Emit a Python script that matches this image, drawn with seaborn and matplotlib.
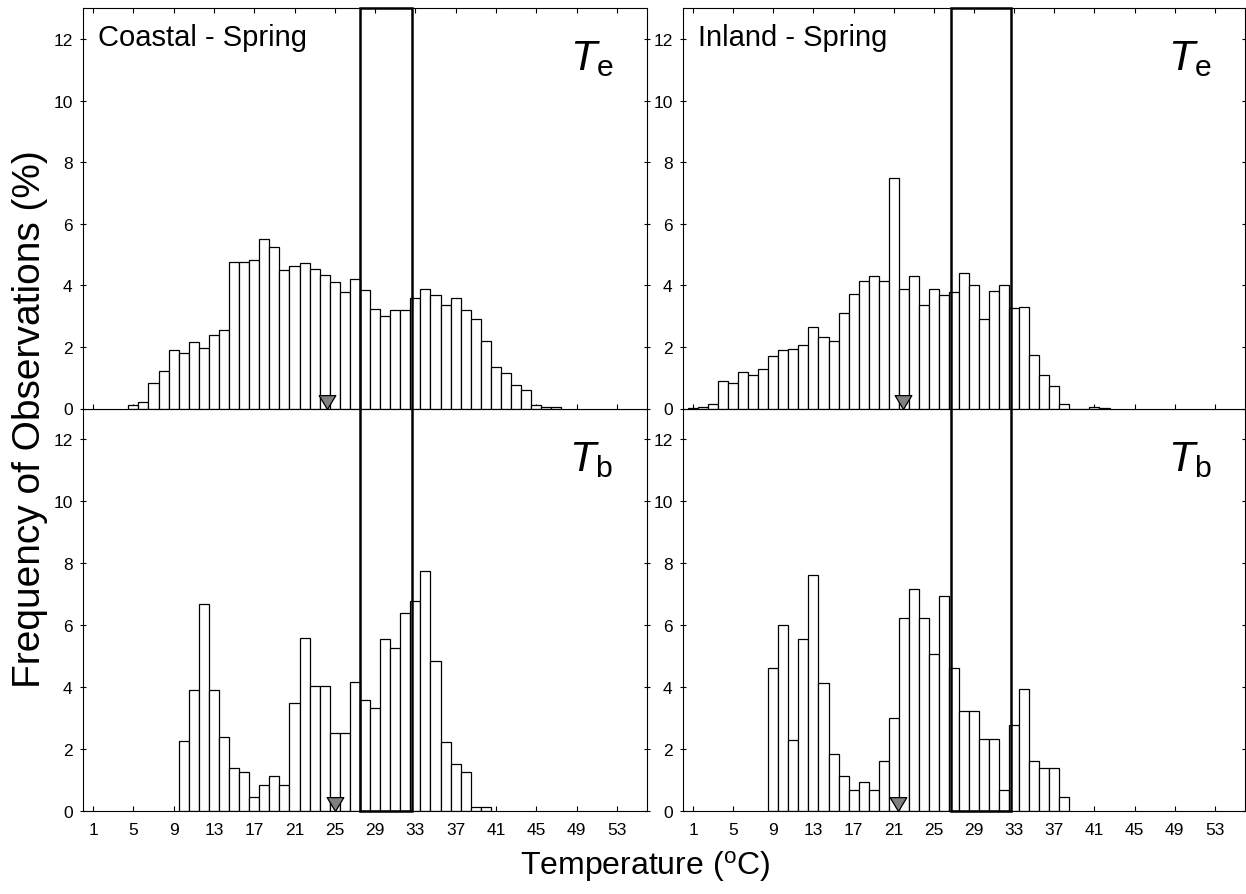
import numpy as np
import matplotlib
matplotlib.use('Agg')
import matplotlib.pyplot as plt
import seaborn as sns
from matplotlib.patches import Rectangle
from matplotlib.path import Path
import matplotlib.transforms as mtransforms

sns.set_theme(style='white')
plt.rcParams['font.family'] = ['Liberation Sans', 'DejaVu Sans']
plt.rcParams['mathtext.fontset'] = 'custom'
plt.rcParams['mathtext.rm'] = 'Liberation Sans'
plt.rcParams['mathtext.it'] = 'Liberation Sans:italic'
plt.rcParams['mathtext.bf'] = 'Liberation Sans:bold'

# ---------------- data ----------------
coastal_te_temp = list(range(5, 48))
coastal_te_freq = [0.11, 0.22, 0.83, 1.21, 1.89, 1.81, 2.17, 1.98, 2.40, 2.54,
                   4.76, 4.76, 4.81, 5.49, 5.23, 4.49, 4.62, 4.72, 4.54, 4.35,
                   4.11, 3.77, 4.20, 3.84, 3.23, 2.99, 3.21, 3.19, 3.59, 3.89,
                   3.68, 3.37, 3.59, 3.19, 2.90, 2.18, 1.35, 1.14, 0.76, 0.59,
                   0.11, 0.04, 0.04]

inland_te_temp = list(range(1, 43))
inland_te_freq = [0.03, 0.05, 0.14, 0.88, 0.84, 1.18, 1.09, 1.28, 1.72, 1.91,
                  1.94, 2.06, 2.66, 2.31, 2.18, 3.11, 3.73, 4.15, 4.32, 4.14,
                  7.48, 3.87, 4.31, 3.35, 3.88, 3.70, 3.79, 4.41, 4.01, 2.92,
                  3.82, 4.00, 3.26, 3.29, 1.73, 1.08, 0.74, 0.15, 0.0, 0.0,
                  0.05, 0.03]

coastal_tb_temp = list(range(10, 41))
coastal_tb_freq = [2.24, 3.89, 6.68, 3.89, 2.37, 1.38, 1.25, 0.43, 0.84, 1.11,
                   0.84, 3.48, 5.57, 4.03, 4.03, 2.52, 2.52, 4.16, 3.59, 3.32,
                   5.54, 5.26, 6.38, 6.79, 7.76, 4.84, 2.22, 1.51, 1.24, 0.12,
                   0.12]

inland_tb_temp = list(range(9, 39))
inland_tb_freq = [4.62, 6.01, 2.29, 5.55, 7.62, 4.14, 1.84, 1.12, 0.68, 0.92,
                  0.68, 1.60, 3.01, 6.24, 7.17, 6.24, 5.07, 6.93, 4.62, 3.22,
                  3.22, 2.31, 2.31, 0.67, 2.76, 3.92, 1.60, 1.37, 1.37, 0.44]

panel_titles = ['Coastal - Spring', 'Inland - Spring']
row_labels = [r'$\mathit{T}_{\mathrm{e}}$', r'$\mathit{T}_{\mathrm{b}}$']
mean_temps = [[24.2, 21.9], [25.0, 21.4]]          # [row][col]
preferred_range = [(27.5, 32.7), (26.7, 32.7)]      # per column
xtick_vals = list(range(1, 54, 4))
ytick_vals = list(range(0, 13, 2))

panels = [[(coastal_te_temp, coastal_te_freq), (inland_te_temp, inland_te_freq)],
          [(coastal_tb_temp, coastal_tb_freq), (inland_tb_temp, inland_tb_freq)]]

# ---------------- layout ----------------
W, H = 1246, 895
fig = plt.figure(figsize=(W / 100, H / 100), dpi=100)
lefts = [83 / W, 683 / W]
widths = [564 / W, 562 / W]
top_b = 1 - 409.5 / H
top_h = (409.5 - 9.3) / H
bot_b = 1 - 811.7 / H
bot_h = (811.7 - 409.5) / H

tri = Path([(-0.6, 1.0), (0.6, 1.0), (0.0, 0.0), (-0.6, 1.0)],
           [Path.MOVETO, Path.LINETO, Path.LINETO, Path.CLOSEPOLY])

axes = [[None, None], [None, None]]
for c in range(2):
    ax_bot = fig.add_axes([lefts[c], bot_b, widths[c], bot_h])
    ax_top = fig.add_axes([lefts[c], top_b, widths[c], top_h], sharex=ax_bot)
    axes[0][c] = ax_top
    axes[1][c] = ax_bot

for r in range(2):
    for c in range(2):
        ax = axes[r][c]
        temps, freqs = panels[r][c]
        sns.histplot(x=temps, weights=freqs, discrete=True, ax=ax,
                     color='white', edgecolor='black', linewidth=0.9,
                     alpha=1.0, zorder=2)
        ax.plot([mean_temps[r][c]], [0], marker=tri, ms=20, ls='none',
                mfc='#808080', mec='black', mew=0.9, clip_on=False, zorder=6)
        ax.set_xlim(0, 56)
        ax.set_ylim(0, 13)
        ax.set_xticks(xtick_vals)
        ax.set_yticks(ytick_vals)
        ax.set_xlabel('')
        ax.set_ylabel('')
        for sp in ax.spines.values():
            sp.set_color('black')
            sp.set_linewidth(0.8)
        ax.tick_params(axis='x', direction='in', length=3.5, width=0.8,
                       colors='black', labelsize=12.5, pad=8,
                       top=(r == 0), bottom=True, labelbottom=(r == 1))
        ax.tick_params(axis='y', direction='inout', length=5, width=0.8,
                       colors='black', labelsize=12.5, pad=5,
                       left=True, right=True)
        ax.text(0.94, 0.925, row_labels[r], transform=ax.transAxes,
                ha='right', va='top', fontsize=31, color='black')
        if r == 0:
            ax.text(0.027, 0.963, panel_titles[c], transform=ax.transAxes,
                    ha='left', va='top', fontsize=21, color='black')

# preferred temperature boxes spanning both rows
for c in range(2):
    lo, hi = preferred_range[c]
    trans = mtransforms.blended_transform_factory(axes[1][c].transData,
                                                  fig.transFigure)
    rect = Rectangle((lo, bot_b), hi - lo, (top_b + top_h) - bot_b,
                     transform=trans, fill=False, edgecolor='black',
                     linewidth=1.8, zorder=7)
    fig.add_artist(rect)

fig.text(0.024, 0.532, 'Frequency of Observations (%)', rotation=90,
         ha='center', va='center', fontsize=28, color='black')
fig.text(0.518, 0.032, r'Temperature ($^{\mathrm{o}}$C)',
         ha='center', va='center', fontsize=23, color='black')

fig.savefig('out.png', dpi=100)
